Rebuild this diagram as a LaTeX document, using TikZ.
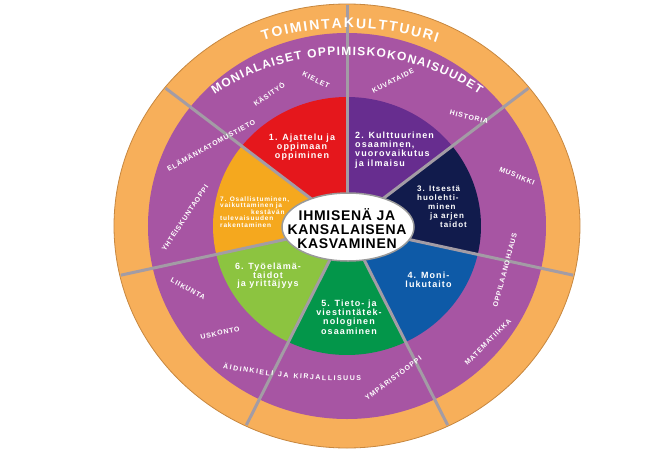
\documentclass[tikz,border=0pt]{standalone}
\usepackage{fontspec}
\usetikzlibrary{decorations.text,shapes.geometric}
\setmainfont{Liberation Sans}
\newfontfamily\labfont{Liberation Sans}[LetterSpace=12]
\newfontfamily\cenfont{Liberation Sans}[LetterSpace=5]
\newcommand\tkTitleA{\fontsize{14}{14}\selectfont\bfseries}
\newcommand\tkTitleB{\fontsize{12}{12}\selectfont\bfseries}
\newcommand\tkSub{\fontsize{7}{7}\selectfont\bfseries}
\definecolor{ringorange}{HTML}{F7AF5A}
\definecolor{ringedge}{HTML}{C7873F}
\definecolor{ringpurple}{HTML}{A755A3}
\definecolor{secA}{HTML}{E5171C}
\definecolor{secB}{HTML}{672D8F}
\definecolor{secC}{HTML}{111B4C}
\definecolor{secD}{HTML}{0E5AA7}
\definecolor{secE}{HTML}{03964A}
\definecolor{secF}{HTML}{8CC440}
\definecolor{secG}{HTML}{F5A81E}
\definecolor{divgray}{HTML}{A39CA5}
\definecolor{ellgray}{HTML}{9A9A9A}
\begin{document}
\begin{tikzpicture}[x=1pt,y=1pt,
  sublabel/.style={text=white,font=\labfont\bfseries\fontsize{7}{7}\selectfont,inner sep=0pt},
  seclabel/.style={text=white,font=\labfont\bfseries\fontsize{9}{9.2}\selectfont,inner sep=0pt},
  divider/.style={draw=divgray,line width=3pt},
  curvetext/.style={decorate,decoration={text along path,text color=white,text align={fit to path},text={#1}}}]
\fill[white] (-347,-230) rectangle (325,226);
\useasboundingbox (-347,-230) rectangle (325,226);
% rings
\fill[ringorange,draw=ringedge,line width=0.8pt] (0,0) ellipse [x radius=233, y radius=222];
\fill[ringpurple] (0,0) ellipse [x radius=199, y radius=193];
% sectors
\foreach \a/\c in {90/secA,38.571/secB,-12.857/secC,-64.286/secD,-115.714/secE,-167.143/secF,141.429/secG}
  \fill[\c] (0,0) -- (\a:134 and 129) arc[start angle=\a, delta angle=51.429, x radius=134, y radius=129] -- cycle;
% dividers
\foreach \a in {90,38.571,-12.857,-64.286,-115.714,-167.143,141.429}
  \draw[divider] (0,0) -- (\a:232 and 221);
% centre
\node[ellipse,draw=ellgray,line width=1.5pt,fill=white,minimum width=132pt,minimum height=68pt,inner sep=0pt] (core) at (1,-1) {};
\node[align=center,inner sep=0pt,font=\cenfont\bfseries\fontsize{14}{14}\selectfont] (coretext) at (0,-3) {IHMISENÄ JA\\KANSALAISENA\\KASVAMINEN};
% ring titles
\path[curvetext={|\tkTitleA|TOIMINTAKULTTUURI}] (0,-24) ++(109.4:253 and 222) arc[start angle=109.4, end angle=69.2, x radius=253, y radius=222];
\path[curvetext={|\tkTitleB|MONIALAISET OPPIMISKOKONAISUUDET}] (0,-24) ++(127:220 and 195) arc[start angle=127, end angle=53, x radius=220, y radius=195];
% subject labels
\node[sublabel,rotate=-26] (kielet) at (-31,146) {KIELET};
\node[sublabel,rotate=35] (kasityo) at (-78,132) {KÄSITYÖ};
\node[sublabel,rotate=29] (elkat) at (-136,81) {ELÄMÄNKATOMUSTIETO};
\node[sublabel,rotate=56] (yht) at (-162,8) {YHTEISKUNTAOPPI};
\node[sublabel,rotate=-29] (liik) at (-159,-63) {LIIKUNTA};
\node[sublabel,rotate=13] (usk) at (-127,-107) {USKONTO};
\path[curvetext={|\tkSub|ÄIDINKIELI JA KIRJALLISUUS}] (-124,-142) .. controls (-77,-152) and (-27,-155) .. (14,-155);
\node[sublabel,rotate=37] (ymp) at (46,-152) {YMPÄRISTÖOPPI};
\node[sublabel,rotate=45] (mat) at (141,-116) {MATEMATIIKKA};
\node[sublabel,rotate=75] (opo) at (158,-44) {OPPILAANOHJAUS};
\node[sublabel,rotate=-22] (mus) at (170,50) {MUSIIKKI};
\node[sublabel,rotate=-14] (his) at (122,109) {HISTORIA};
\node[sublabel,rotate=27] (kuv) at (46,145) {KUVATAIDE};
% sector labels
\node[seclabel,align=center] (s1) at (-45,79) {1. Ajattelu ja\\oppimaan\\oppiminen};
\node[seclabel,align=left,anchor=west] (s2) at (8,76) {2. Kulttuurinen\\osaaminen,\\vuorovaikutus\\ja ilmaisu};
\node[seclabel,align=left,anchor=west,font=\labfont\bfseries\fontsize{8}{9}\selectfont] (s3) at (70,19) {3. Itsestä\\huolehti-\\\hspace*{11pt}minen\\\hspace*{13pt}ja arjen\\\hspace*{23pt}taidot};
\node[seclabel,align=center] (s4) at (81.5,-54) {4. Moni-\\lukutaito};
\node[seclabel,align=center] (s5) at (2,-91) {5. Tieto- ja\\viestintätek-\\nologinen\\osaaminen};
\node[seclabel,align=center,font=\labfont\bfseries\fontsize{9}{8.5}\selectfont] (s6) at (-79,-50) {6. Työelämä-\\taidot\\ja yrittäjyys};
\node[seclabel,align=left,anchor=west,font=\labfont\bfseries\fontsize{6.5}{6.5}\selectfont] (s7) at (-127,14) {7. Osallistuminen,\\vaikuttaminen ja\\\hspace*{31pt}kestävän\\tulevaisuuden\\rakentaminen};
\end{tikzpicture}
\end{document}
